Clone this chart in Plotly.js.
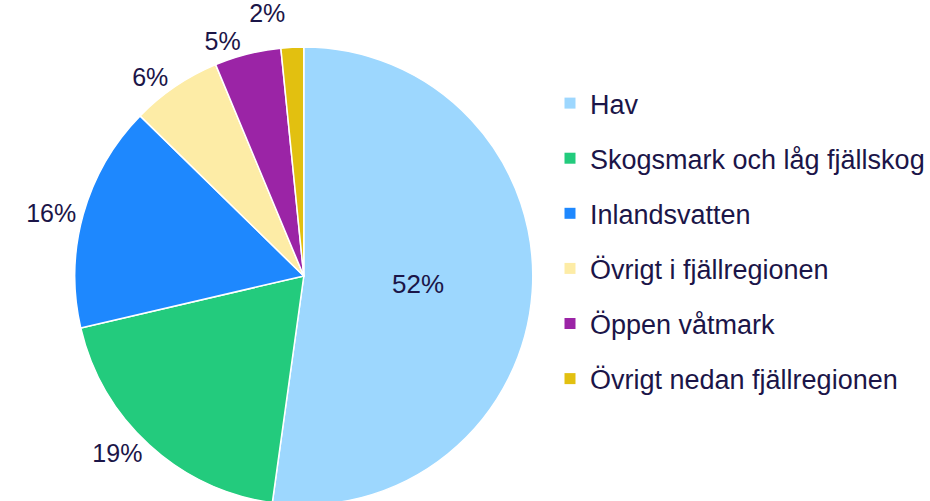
<!DOCTYPE html>
<html>
<head>
<meta charset="utf-8">
<script src="https://cdn.plot.ly/plotly-3.0.1.min.js"></script>
<style>
  html, body { margin: 0; padding: 0; overflow: hidden; background: #fff; }
  /* the reference has no leader lines for outside labels */
  .textline { stroke: none !important; }
</style>
</head>
<body>
<div id="chart"></div>
<script>
const LABELS = [
  'Hav',
  'Skogsmark och låg fjällskog',
  'Inlandsvatten',
  'Övrigt i fjällregionen',
  'Öppen våtmark',
  'Övrigt nedan fjällregionen',
];
const SHARES = [52.3, 19.2, 16.0, 6.4, 4.7, 1.6];
const COLORS = ['#9DD7FE', '#23CB7D', '#1E88FE', '#FDECA6', '#9B24A6', '#E2C010'];
const TEXT_POS = ['inside', 'outside', 'outside', 'outside', 'outside', 'outside'];

const TEXT_COLOR = '#1B1548';
const FONT = 'Arial, "Liberation Sans", sans-serif';

const pie = {
  type: 'pie',
  labels: LABELS,
  values: SHARES,
  sort: false,
  direction: 'clockwise',
  rotation: 0,
  marker: { colors: COLORS, line: { color: '#ffffff', width: 1.5 } },
  texttemplate: '%{percent:.0%}',
  textinfo: 'percent',
  textposition: TEXT_POS,
  insidetextorientation: 'horizontal',
  insidetextfont: { color: TEXT_COLOR, size: 26, family: FONT },
  outsidetextfont: { color: TEXT_COLOR, size: 25, family: FONT },
  domain: { x: [0, 0.654], y: [0, 1] },
  showlegend: false,
  hoverinfo: 'label+percent',
};

// legend entries (square swatches), one group each so the gap can be set
const legendTraces = LABELS.map((name, i) => ({
  type: 'scatter', mode: 'markers',
  x: [null], y: [null],
  name: name,
  legendgroup: 'g' + i,
  marker: { symbol: 'square', size: 11, color: COLORS[i] },
  hoverinfo: 'skip',
}));

const layout = {
  width: 930,
  height: 505,
  margin: { t: 47, r: 0, b: 0, l: 0 },
  paper_bgcolor: '#ffffff',
  plot_bgcolor: '#ffffff',
  font: { family: FONT, size: 27, color: TEXT_COLOR },
  xaxis: { visible: false, domain: [0.99, 1] },
  yaxis: { visible: false },
  showlegend: true,
  legend: {
    x: 0.592, xanchor: 'left',
    y: 0.93, yanchor: 'top',
    traceorder: 'grouped',
    tracegroupgap: 17,
    font: { family: FONT, size: 27, color: TEXT_COLOR },
    bgcolor: 'rgba(0,0,0,0)',
  },
};

Plotly.newPlot('chart', [pie, ...legendTraces], layout, { displayModeBar: false, staticPlot: true });
</script>
</body>
</html>
